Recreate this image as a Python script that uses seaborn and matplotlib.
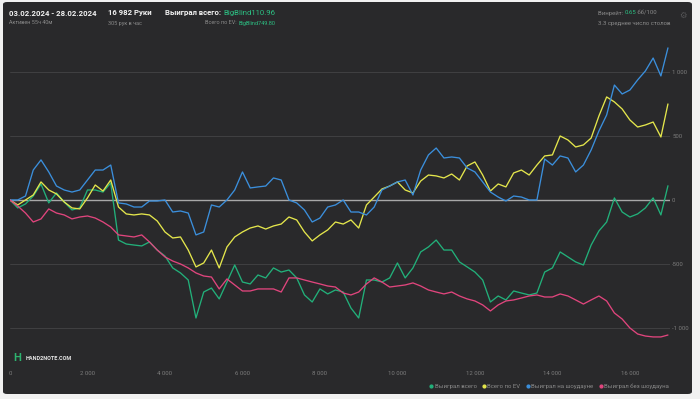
import matplotlib
matplotlib.use("Agg")
import matplotlib.pyplot as plt
import seaborn as sns
import pandas as pd
from matplotlib.patches import FancyBboxPatch
from matplotlib.lines import Line2D

# ---------------- data ----------------
hands = [0, 200, 400, 600, 800, 1000, 1200, 1400, 1600, 1800,
         2000, 2200, 2400, 2600, 2800, 3000, 3200, 3400, 3600, 3800,
         4000, 4200, 4400, 4600, 4800, 5000, 5200, 5400, 5600, 5800,
         6000, 6200, 6400, 6600, 6800, 7000, 7200, 7400, 7600, 7800,
         8000, 8200, 8400, 8600, 8800, 9000, 9200, 9400, 9600, 9800,
         10000, 10200, 10400, 10600, 10800, 11000, 11200, 11400, 11600, 11800,
         12000, 12200, 12400, 12600, 12800, 13000, 13200, 13400, 13600, 13800,
         14000, 14200, 14400, 14600, 14800, 15000, 15200, 15400, 15600, 15800,
         16000, 16200, 16400, 16600, 16800, 16982]

won_total = [0, -62, -31, 31, 125, -23, 55, -16, -78, -62,
             78, 78, 62, 133, -313, -344, -352, -359, -328, -391,
             -438, -531, -570, -625, -922, -719, -688, -773, -641, -508,
             -641, -656, -586, -609, -531, -563, -547, -609, -742, -797,
             -695, -734, -703, -719, -844, -922, -625, -625, -641, -609,
             -492, -609, -531, -406, -367, -313, -391, -391, -484, -523,
             -563, -625, -797, -750, -781, -711, -727, -742, -727, -563,
             -531, -406, -445, -484, -508, -352, -242, -172, 16, -94,
             -133, -109, -62, 16, -117, 111]

ev_total = [0, -39, 0, 39, 141, 78, 47, -16, -62, -70,
            16, 117, 70, 156, -55, -109, -117, -109, -117, -164,
            -250, -297, -289, -391, -523, -492, -391, -531, -367, -289,
            -250, -219, -203, -227, -203, -188, -133, -156, -250, -320,
            -273, -234, -172, -188, -156, -219, -39, 23, 86, 109,
            141, 78, 55, 148, 195, 188, 172, 203, 156, 266,
            297, 195, 70, 125, 102, 211, 234, 195, 273, 344,
            352, 500, 469, 414, 430, 484, 656, 805, 766, 711,
            625, 570, 586, 609, 492, 750]

won_showdown = [0, 0, 31, 234, 313, 219, 109, 78, 62, 78,
                156, 234, 234, 273, -23, -31, -55, -55, -8, -8,
                0, -94, -86, -102, -273, -250, -39, -55, 0, 78,
                219, 94, 102, 109, 172, 156, 0, -23, -78, -172,
                -141, -55, -39, 0, -94, -94, -117, -55, 78, 109,
                141, 156, 39, 234, 352, 406, 328, 336, 328, 250,
                219, 141, 62, 23, -8, 31, 23, 0, 0, 320,
                273, 344, 328, 219, 273, 391, 539, 664, 898, 828,
                859, 938, 1008, 1109, 969, 1188]

won_nonshowdown = [0, -47, -102, -172, -148, -70, -102, -117, -148, -133,
                   -125, -141, -172, -211, -273, -281, -289, -273, -328, -391,
                   -445, -477, -500, -531, -570, -594, -602, -695, -617, -664,
                   -711, -711, -695, -695, -695, -719, -609, -609, -625, -641,
                   -656, -672, -680, -727, -742, -719, -656, -609, -641, -680,
                   -672, -664, -648, -672, -703, -719, -734, -719, -750, -773,
                   -789, -820, -867, -820, -789, -781, -766, -750, -742, -758,
                   -758, -734, -750, -781, -813, -781, -750, -789, -883, -930,
                   -1000, -1047, -1063, -1070, -1070, -1055]

series_names = ["Выиграл всего", "Всего по EV", "Выиграл на шоудауне", "Выиграл без шоудауна"]
series_values = [won_total, ev_total, won_showdown, won_nonshowdown]
series_colors = ["#22b07a", "#e4e64c", "#3b8fdc", "#e0457d"]

x_ticks = [0, 2000, 4000, 6000, 8000, 10000, 12000, 14000, 16000]
x_tick_labels = ["0", "2 000", "4 000", "6 000", "8 000", "10 000", "12 000", "14 000", "16 000"]
y_ticks = [-1000, -500, 0, 500, 1000]
y_tick_labels = ["-1 000", "-500", "0", "500", "1 000"]

# ---------------- style ----------------
sns.set_style("dark")
plt.rcParams["font.family"] = ["Roboto", "DejaVu Sans"]

W, H = 700, 399
fig = plt.figure(figsize=(W / 100, H / 100), dpi=100)
fig.patch.set_facecolor("#f1f1f1")

def fx(px):
    return px / W

def fy(py):
    return 1 - py / H

# dark rounded panel in its own background axes
bg = fig.add_axes([0, 0, 1, 1], zorder=0)
bg.set_axis_off()
bg.set_xlim(0, 1)
bg.set_ylim(0, 1)
bg.add_patch(FancyBboxPatch((fx(3), fy(394)), fx(692) - fx(3), fy(2) - fy(394),
                            boxstyle="round,pad=0,rounding_size=0.006",
                            facecolor="#29292b", edgecolor="none"))

ax = fig.add_axes([fx(10), fy(345), fx(670) - fx(10), fy(25) - fy(345)], zorder=2)
ax.set_facecolor("none")

frames = []
for name, vals in zip(series_names, series_values):
    frames.append(pd.DataFrame({"hands": hands, "bb": vals, "series": name}))
df = pd.concat(frames, ignore_index=True)

for y in y_ticks:
    if y == 0:
        ax.axhline(y, color="#a8a8a8", lw=1.0, zorder=1)
    else:
        ax.axhline(y, color="#444446", lw=0.6, zorder=1)

sns.lineplot(data=df, x="hands", y="bb", hue="series",
             palette=dict(zip(series_names, series_colors)),
             hue_order=series_names, linewidth=0.95, legend=False,
             ax=ax, zorder=3)

ax.set_xlim(0, 17035)
ax.set_ylim(-1133, 1367)
ax.set_xlabel("")
ax.set_ylabel("")
for s in ax.spines.values():
    s.set_visible(False)
ax.grid(False)

ax.set_xticks(x_ticks)
ax.set_xticklabels(x_tick_labels)
ax.tick_params(axis="x", length=0, pad=19, labelsize=4.3, labelcolor="#7c7c7c")
ax.yaxis.tick_right()
ax.set_yticks(y_ticks)
ax.set_yticklabels(y_tick_labels)
ax.tick_params(axis="y", length=0, pad=1.5, labelsize=4.3, labelcolor="#7c7c7c")

# ---------------- header ----------------
white = "#f2f2f2"
grey = "#8a8a8a"
green = "#2cc083"
renderer = fig.canvas.get_renderer()


def text_run(x_px, y_px, parts, size, ha="left"):
    """Draw consecutive coloured text pieces on one line."""
    artists = []
    for txt, col, weight in parts:
        a = fig.text(fx(x_px), fy(y_px), txt, color=col, fontsize=size,
                     fontweight=weight, va="center", ha="left")
        artists.append(a)
    widths = [a.get_window_extent(renderer).width for a in artists]
    total = sum(widths)
    start = x_px - total if ha == "right" else x_px
    cur = start
    for a, w in zip(artists, widths):
        a.set_x(fx(cur))
        cur += w
    return artists


text_run(9, 13, [("03.02.2024 - 28.02.2024", white, "bold")], 5.6)
text_run(9, 23, [("Активен 55ч 40м", grey, "normal")], 4.0)
text_run(108, 13, [("16 982 Руки", white, "bold")], 5.6)
text_run(108, 23, [("305 рук в час", grey, "normal")], 4.0)
text_run(165, 13, [("Выиграл всего: ", white, "bold"), ("BigBlind110.96", green, "normal")], 5.6)
text_run(275, 23, [("Всего по EV: ", grey, "normal"), ("BigBlind749.80", green, "normal")], 4.0,
         ha="right")
text_run(598, 13, [("Винрейт: ", grey, "normal"), ("0.65", green, "normal"),
                   (" бб/100", grey, "normal")], 4.3)
text_run(598, 23, [("3.3 среднее число столов", grey, "normal")], 4.3)
fig.text(fx(683), fy(15), "⚙", color="#555557", fontsize=6, va="center", ha="center",
         family=["DejaVu Sans"])

# ---------------- logo ----------------
fig.text(fx(17), fy(358), "H", color="#2db36f", fontsize=8, fontweight="bold",
         va="center", ha="center")
fig.text(fx(26), fy(358), "HAND2NOTE.COM", color="#e6e6e6", fontsize=4.0,
         fontweight="bold", va="center", ha="left")

# ---------------- legend ----------------
handles = [Line2D([0], [0], marker="o", linestyle="none", markersize=2.0,
                  markerfacecolor=c, markeredgecolor=c) for c in series_colors]
leg = fig.legend(handles, series_names, loc="center right",
                 bbox_to_anchor=(fx(669), fy(386)), ncol=4, frameon=False,
                 fontsize=4.3, handlelength=0.6, handletextpad=0.3,
                 columnspacing=0.9, borderaxespad=0, borderpad=0)
for t in leg.get_texts():
    t.set_color("#8a8a8a")

fig.savefig("out.png", dpi=100, facecolor=fig.get_facecolor())
